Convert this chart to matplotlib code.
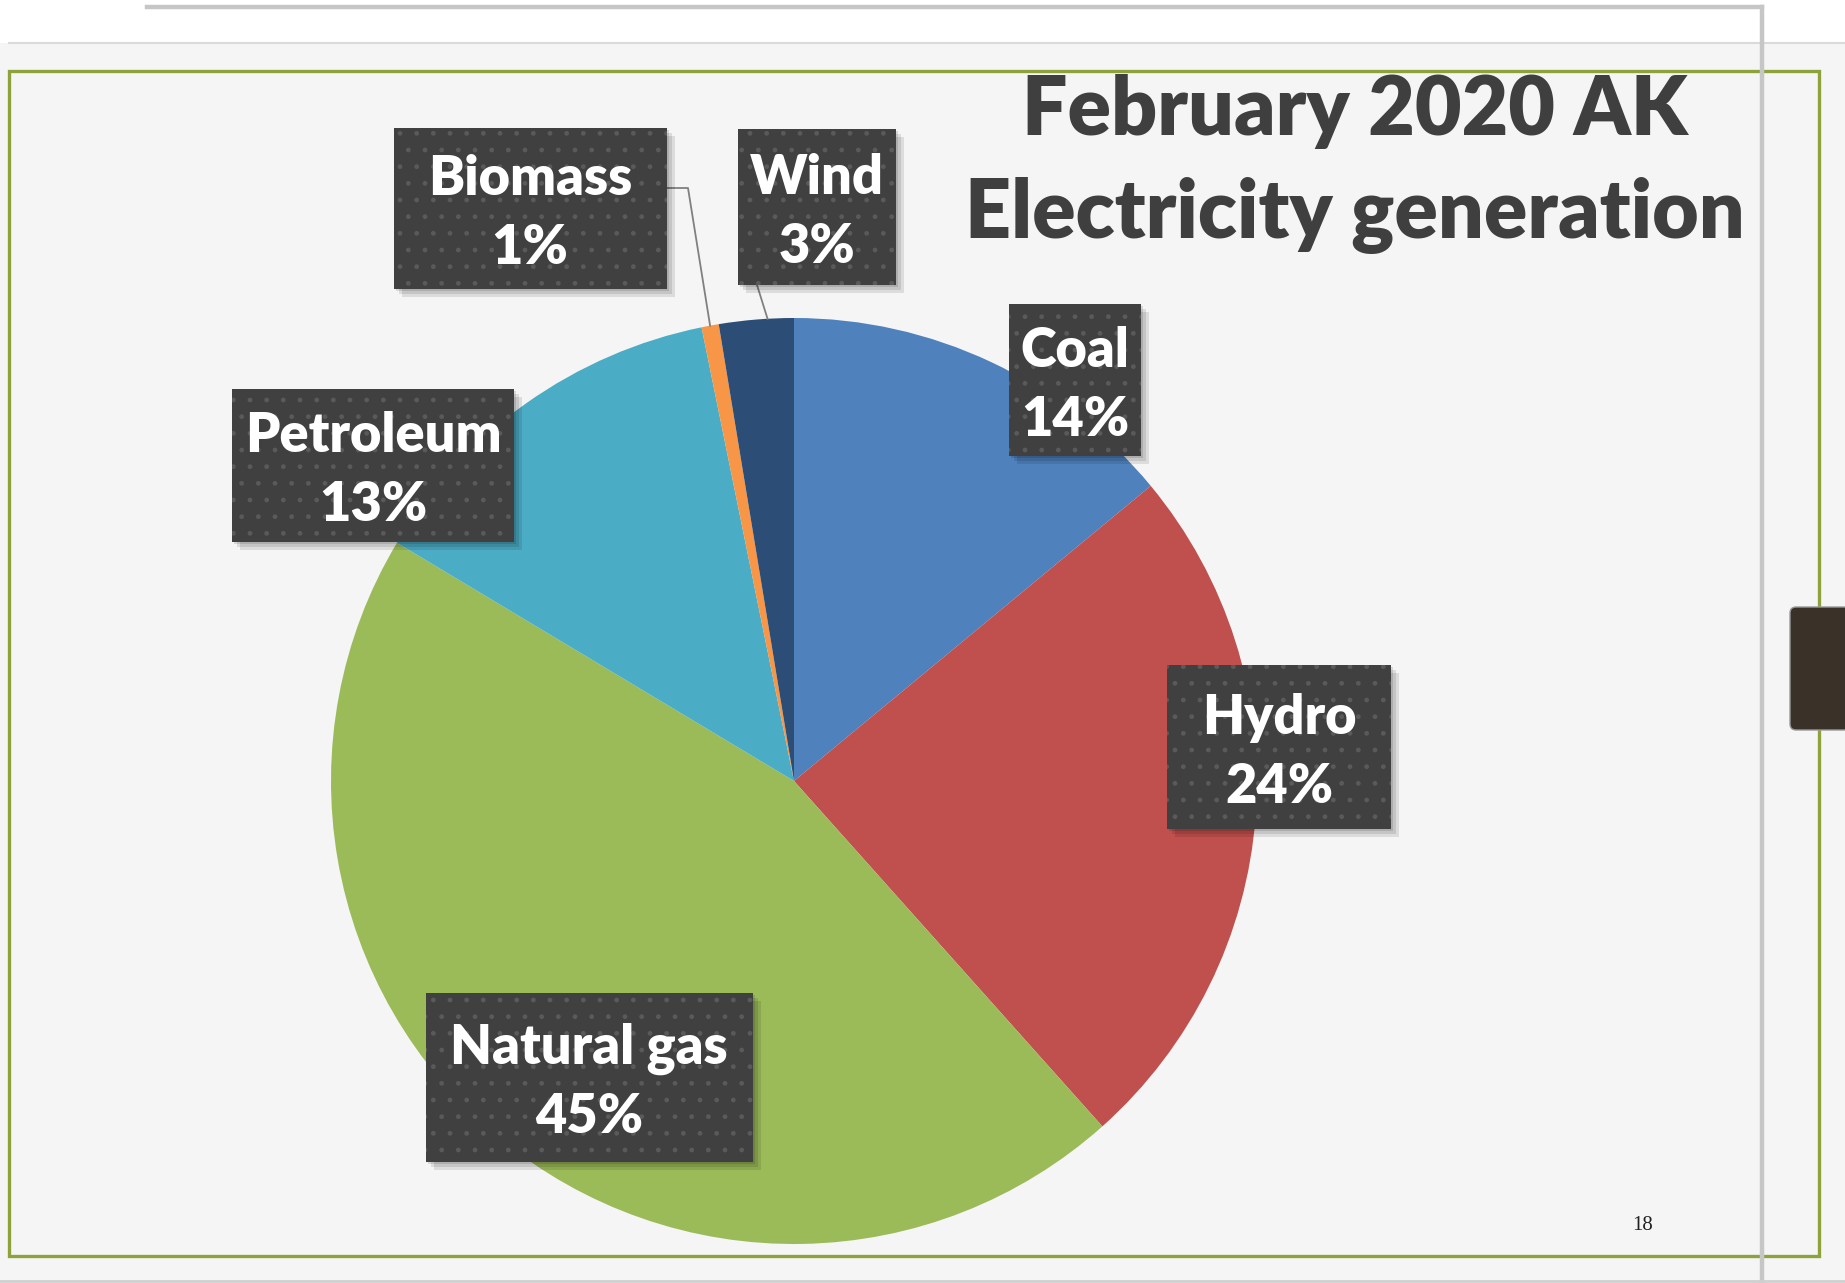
import numpy as np
import matplotlib.pyplot as plt
from matplotlib.patches import Rectangle, FancyBboxPatch

# generation mix, share of total (%)
sources = ["Coal", "Hydro", "Natural gas", "Petroleum", "Biomass", "Wind"]
shares = [14.0, 24.4, 45.2, 13.2, 0.6, 2.6]
colors = ["#4F81BD", "#C0504D", "#9BBB59", "#4BACC6", "#F79646", "#2C4D75"]
title_lines = ["February 2020 AK", "Electricity generation"]
page_no = "18"

W, H = 1845, 1283

def Y(y):
    # slide coordinates run top-down, axes bottom-up
    return H - y

fig = plt.figure(figsize=(W / 100, H / 100), dpi=100)
ax = fig.add_axes([0, 0, 1, 1])

# slide background
ax.add_patch(Rectangle((0, 0), W, H, facecolor="#F5F5F5", edgecolor="none", zorder=0))
ax.add_patch(Rectangle((0, Y(43)), W, 43, facecolor="white", edgecolor="none", zorder=0))
ax.plot([147, 1762], [Y(7), Y(7)], color="#C6C6C6", lw=3.2, zorder=1)
ax.plot([9, W], [Y(43), Y(43)], color="#DADADA", lw=1.5, zorder=1)
ax.add_patch(Rectangle((9, Y(1256)), 1810, 1256 - 71, facecolor="none",
                       edgecolor="#8DA23A", lw=2.4, zorder=1))
ax.plot([1762, 1762], [Y(7), 0], color="#C6C6C6", lw=3.2, zorder=1)
ax.plot([0, W], [Y(1281), Y(1281)], color="#CFCFCF", lw=2, zorder=1)
ax.add_patch(FancyBboxPatch((1790, Y(730)), 60, 123, boxstyle="round,pad=0,rounding_size=6",
                            facecolor="#3A3128", edgecolor="#9A9A9A", lw=1, zorder=2))

# pie
cx, cy, r = 794, 781, 463
wedges, _ = ax.pie(shares, colors=colors, startangle=90, counterclock=False,
                   center=(cx, Y(cy)), radius=r, wedgeprops=dict(linewidth=0))
for w in wedges:
    w.set_zorder(3)

def arc_point(w, frac=0.5):
    ang = np.deg2rad(w.theta1 + (w.theta2 - w.theta1) * frac)
    return cx + r * np.cos(ang), Y(cy) + r * np.sin(ang)

# label boxes: centre x, centre y, width, height (slide pixels)
boxes = {
    "Coal": (1075, 380, 132, 152),
    "Hydro": (1279, 747, 224, 164),
    "Natural gas": (589, 1077, 327, 169),
    "Petroleum": (373, 465, 282, 153),
    "Biomass": (530, 208, 273, 161),
    "Wind": (817, 207, 158, 156),
}

# leader lines for the two thin slices
bx, by = arc_point(wedges[4])
ax.plot([667, 688, bx], [Y(188), Y(188), by], color="#808080", lw=1.3, zorder=4)
wx, wy = arc_point(wedges[5], 0.35)
ax.plot([757, wx], [Y(285), wy], color="#808080", lw=1.3, zorder=4)

lab_font = dict(color="white", fontsize=39, fontweight=800, family="Lato", zorder=8)
for name, val in zip(sources, shares):
    x, y, bw, bh = boxes[name]
    x0, y0 = x - bw / 2, Y(y + bh / 2)
    for k, a in enumerate([0.10, 0.10, 0.12]):
        d = 9 - 3 * k
        ax.add_patch(Rectangle((x0 + d - 1, y0 - d + 1), bw, bh, facecolor="black",
                               edgecolor="none", alpha=a, zorder=5))
    ax.add_patch(Rectangle((x0, y0), bw, bh, facecolor="#404040", edgecolor="none", zorder=6))
    ax.add_patch(Rectangle((x0, y0), bw, bh, facecolor="none", edgecolor="#5A5A5A",
                           lw=0, hatch=".", zorder=7))
    ax.text(x, Y(y - 13), name, ha="center", va="baseline", **lab_font)
    ax.text(x, Y(y + 56), f"{val:.0f}%", ha="center", va="baseline", **lab_font)

title_font = dict(color="#3F3F3F", fontsize=58, fontweight=800, family="Lato", zorder=8)
ax.text(1355, Y(135), title_lines[0], ha="center", va="baseline", **title_font)
ax.text(1355, Y(238), title_lines[1], ha="center", va="baseline", **title_font)
ax.text(1643, Y(1226), page_no, ha="center", va="center", color="#222222",
        fontsize=15, family="Liberation Serif", zorder=8)

ax.set_xlim(0, W)
ax.set_ylim(0, H)
ax.set_aspect("auto")
ax.axis("off")
fig.savefig("out.png", dpi=100)
